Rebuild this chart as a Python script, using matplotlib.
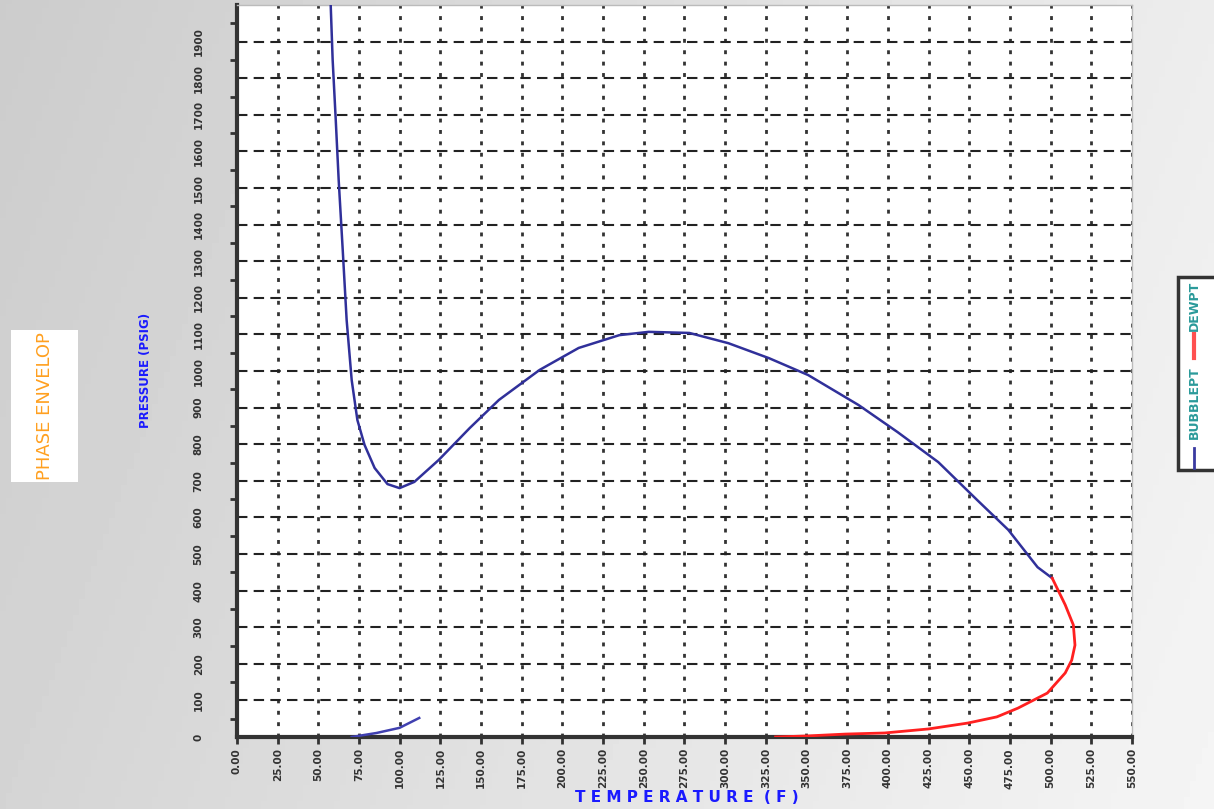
import numpy as np
import matplotlib.pyplot as plt
from matplotlib.patches import Rectangle
from matplotlib.lines import Line2D
from matplotlib.ticker import FixedLocator

# bubble point curve (temperature F, pressure psig)
bub_T = [57.6, 58.8, 60.7, 62.5, 65.0, 67.4, 70.5, 74.0, 78.4, 84.6, 92.5, 99.9,
         109, 124, 143, 161, 186, 210, 235, 253, 278, 302, 327, 351, 382, 406,
         431, 455, 474, 492, 501]
bub_P = [2000, 1850, 1686, 1522, 1330, 1139, 975, 866, 798, 735, 691, 680,
         697, 757, 844, 921, 1003, 1063, 1098, 1107, 1104, 1076, 1035, 989, 907, 833,
         751, 647, 566, 464, 434]

# small low pressure branch
low_T = [70.5, 85.8, 99.9, 112]
low_P = [0, 11, 25, 52]

# dew point curve
dew_T = [501, 509, 514, 515, 513, 509, 498, 480, 467, 449, 425, 398, 374, 351, 331]
dew_P = [434, 361, 306, 251, 210, 175, 120, 79, 55, 38, 22, 11, 8, 3, 0]

x_ticks = np.arange(0, 551, 25)
y_ticks = np.arange(0, 1901, 100)

fig = plt.figure(figsize=(12.14, 8.09), dpi=100)

# grey gradient background
bg = fig.add_axes([0, 0, 1, 1], zorder=-10)
gx, gy = np.meshgrid(np.linspace(0, 1, 200), np.linspace(0, 1, 200))
bg.imshow(0.80 + 0.16 * (0.8 * gx + 0.2 * gy), cmap='gray', vmin=0, vmax=1,
          aspect='auto', extent=[0, 1, 0, 1], origin='upper')
bg.axis('off')

ax = fig.add_axes([0.1952, 0.0890, 0.7372, 0.9048])
ax.set_facecolor('white')

# drawn over the spines like the original
ax.plot(bub_T, bub_P, color='#30309a', lw=1.8, zorder=3)
ax.plot(low_T, low_P, color='#4040b0', lw=1.8, zorder=3)
ax.plot(dew_T, dew_P, color='#ff2020', lw=2, zorder=3)

ax.set_xlim(0, 550)
ax.set_ylim(0, 2000)

ax.set_xticks(x_ticks)
ax.set_xticklabels(['%.2f' % v for v in x_ticks], rotation=90,
                   fontsize=7.5, fontweight='bold', color='#333333')
ax.set_yticks(y_ticks)
ax.set_yticklabels(['%d' % v for v in y_ticks], rotation=90, va='center',
                   fontsize=7.5, fontweight='bold', color='#333333')
ax.yaxis.set_minor_locator(FixedLocator(np.arange(50, 2000, 100)))

ax.tick_params(axis='x', which='major', length=5, width=2, direction='out',
               color='#333333', pad=3)
ax.tick_params(axis='y', which='major', length=0, pad=24)
ax.tick_params(axis='y', which='minor', length=5, width=2, direction='out',
               color='#333333')

ax.xaxis.grid(True, linestyle=(0, (1.4, 2.7)), color='#333333', lw=2)
ax.yaxis.grid(True, linestyle=(0, (5, 3)), color='#222222', lw=1.5)
ax.set_axisbelow(True)

for s in ['left', 'bottom']:
    ax.spines[s].set_linewidth(3)
    ax.spines[s].set_color('#333333')
for s in ['top', 'right']:
    ax.spines[s].set_linewidth(1)
    ax.spines[s].set_color('#bbbbbb')

# titles
fig.patches.append(Rectangle((11 / 1214, 1 - 482 / 809), 67 / 1214, 152 / 809,
                             transform=fig.transFigure, facecolor='white',
                             edgecolor='none'))
fig.text(45 / 1214, 1 - 406 / 809, 'PHASE ENVELOP', rotation=90, ha='center',
         va='center', color='#ffa020', fontsize=13)
fig.text(146 / 1214, 1 - 370 / 809, 'PRESSURE (PSIG)', rotation=90, ha='center',
         va='center', color='#1a1aff', fontsize=8.5, fontweight='bold')
fig.text(687 / 1214, 1 - 798 / 809, 'T E M P E R A T U R E  ( F )', ha='center',
         va='center', color='#1a1aff', fontsize=11, fontweight='bold')

# legend box
fig.patches.append(Rectangle((1178 / 1214, 1 - 470 / 809), 60 / 1214, 193 / 809,
                             transform=fig.transFigure, facecolor='white',
                             edgecolor='#333333', lw=2.5))
lx = 1194 / 1214
fig.lines.append(Line2D([lx, lx], [1 - 468 / 809, 1 - 448 / 809],
                        transform=fig.transFigure, color='#3a3aa0', lw=2))
fig.text(lx, 1 - 403 / 809, 'BUBBLEPT', rotation=90, ha='center', va='center',
         color='#2a9a9a', fontsize=9, fontweight='bold')
fig.lines.append(Line2D([lx, lx], [1 - 358 / 809, 1 - 334 / 809],
                        transform=fig.transFigure, color='#ff5050', lw=3))
fig.text(lx, 1 - 306 / 809, 'DEWPT', rotation=90, ha='center', va='center',
         color='#2a9a9a', fontsize=9, fontweight='bold')

fig.savefig('out.png', dpi=100)
